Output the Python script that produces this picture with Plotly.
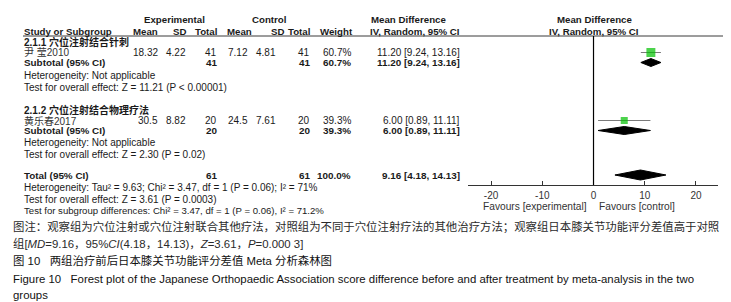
import plotly.graph_objects as go

# ---------------- data ----------------
subgroup_names = ["2.1.1 穴位注射结合针刺", "2.1.2 穴位注射结合物理疗法"]
study_names = ["尹 莹2010", "黄乐春2017"]
exp_mean = [18.32, 30.5]
exp_sd = [4.22, 8.82]
exp_total = [41, 20]
ctl_mean = [7.12, 24.5]
ctl_sd = [4.81, 7.61]
ctl_total = [41, 20]
weights = [60.7, 39.3]
md = [11.20, 6.00]
md_lo = [9.24, 0.89]
md_hi = [13.16, 11.11]
sub_heterogeneity = ["Heterogeneity: Not applicable", "Heterogeneity: Not applicable"]
sub_overall = ["Test for overall effect: Z = 11.21 (P < 0.00001)",
               "Test for overall effect: Z = 2.30 (P = 0.02)"]
total_exp = 61
total_ctl = 61
total_weight = 100.0
total_md = 9.16
total_lo = 4.18
total_hi = 14.13
total_het = "Heterogeneity: Tau² = 9.63; Chi² = 3.47, df = 1 (P = 0.06); I² = 71%"
total_overall = "Test for overall effect: Z = 3.61 (P = 0.0003)"
subgroup_diff = "Test for subgroup differences: Chi² = 3.47, df = 1 (P = 0.06), I² = 71.2%"
tick_values = [-20, -10, 0, 10, 20]
tick_labels = ["-20", "-10", "0", "10", "20"]
favours = ["Favours [experimental]", "Favours [control]"]
captions = [
    "图注：观察组为穴位注射或穴位注射联合其他疗法，对照组为不同于穴位注射疗法的其他治疗方法；观察组日本膝关节功能评分差值高于对照",
    "组[<i>MD</i>=9.16，95%<i>CI</i>(4.18，14.13)，<i>Z</i>=3.61，<i>P</i>=0.000 3]",
    "图 10&nbsp;&nbsp;&nbsp;两组治疗前后日本膝关节功能评分差值 Meta 分析森林图",
    "Figure 10&nbsp;&nbsp;&nbsp;Forest plot of the Japanese Orthopaedic Association score difference before and after treatment by meta-analysis in the two",
    "groups",
]

# ---------------- layout constants ----------------
W, H = 731, 302
FONT = "Liberation Sans, Arial, Noto Sans CJK SC"
CJK = "Liberation Sans, Noto Sans CJK SC"
TXT = "#1a1a1a"
REG = 10.0
BOLD = 9.9
HEAD = 9.7
AXIS_Y = 177          # pixel row of the x axis line
HEADER_LINE_Y = 28

# row pixel positions (layout only)
row_y = {
    "h1": 12, "h2": 23,
    "g0": 34, "s0": 44.5, "sub0": 54.5, "het0": 67, "ov0": 79,
    "g1": 102, "s1": 112.5, "sub1": 122.5, "het1": 135, "ov1": 146,
    "tot": 167, "thet": 179, "tov": 191, "sgd": 202,
}
caption_y = [218, 235.5, 253, 270.5, 287]

# column right edges (pixels)
col_exp_mean, col_exp_sd, col_exp_tot = 151, 179, 210
col_ctl_mean, col_ctl_sd, col_ctl_tot = 241, 269, 303
col_weight = 344
col_ci = 453
LEFT = 15

fig = go.Figure()


def txt(x, y, s, anchor="left", bold=False, size=None, family=FONT, color=TXT):
    if bold:
        s = "<b>" + s + "</b>"
    fig.add_annotation(
        x=x / W, y=1 - y / H, xref="paper", yref="paper", text=s,
        showarrow=False, xanchor=anchor, yanchor="middle", align=anchor,
        font=dict(family=family, size=size or (BOLD if bold else REG), color=color),
        borderpad=0,
    )


# headers
txt(166, row_y["h1"], "Experimental", "center", True, size=HEAD)
txt(261, row_y["h1"], "Control", "center", True, size=HEAD)
txt(400, row_y["h1"], "Mean Difference", "center", True, size=HEAD)
txt(586, row_y["h1"], "Mean Difference", "center", True, size=HEAD)
txt(LEFT, row_y["h2"], "Study or Subgroup", "left", True, size=HEAD)
for xr, lab in [(col_exp_mean, "Mean"), (col_exp_sd, "SD"), (col_exp_tot, "Total"),
                (col_ctl_mean + 4, "Mean"), (col_ctl_sd + 8, "SD"), (col_ctl_tot, "Total"),
                (col_weight + 2, "Weight")]:
    txt(xr, row_y["h2"], lab, "right", True, size=HEAD)
txt(407, row_y["h2"], "IV, Random, 95% CI", "center", True, size=HEAD)
txt(586, row_y["h2"], "IV, Random, 95% CI", "center", True, size=HEAD)

fig.add_shape(type="line", xref="paper", yref="paper",
              x0=LEFT / W, x1=720 / W, y0=1 - HEADER_LINE_Y / H, y1=1 - HEADER_LINE_Y / H,
              line=dict(color="#3a3a3a", width=1))

# subgroup blocks
for i in range(len(study_names)):
    g = str(i)
    txt(LEFT, row_y["g" + g], subgroup_names[i], "left", True, size=10.0, family=CJK)
    ys = row_y["s" + g]
    txt(LEFT, ys, study_names[i], "left", size=10.0, family=CJK, color="#333")
    txt(col_exp_mean, ys, f"{exp_mean[i]:g}", "right")
    txt(col_exp_sd, ys, f"{exp_sd[i]:.2f}", "right")
    txt(col_exp_tot, ys, f"{exp_total[i]}", "right")
    txt(col_ctl_mean, ys, f"{ctl_mean[i]:g}", "right")
    txt(col_ctl_sd, ys, f"{ctl_sd[i]:.2f}", "right")
    txt(col_ctl_tot, ys, f"{ctl_total[i]}", "right")
    txt(col_weight, ys, f"{weights[i]:.1f}%", "right")
    txt(col_ci, ys, f"{md[i]:.2f} [{md_lo[i]:.2f}, {md_hi[i]:.2f}]", "right")
    yb = row_y["sub" + g]
    txt(LEFT, yb, "Subtotal (95% CI)", "left", True)
    txt(col_exp_tot, yb, f"{exp_total[i]}", "right", True)
    txt(col_ctl_tot, yb, f"{ctl_total[i]}", "right", True)
    txt(col_weight, yb, f"{weights[i]:.1f}%", "right", True)
    txt(col_ci, yb, f"{md[i]:.2f} [{md_lo[i]:.2f}, {md_hi[i]:.2f}]", "right", True)
    txt(LEFT, row_y["het" + g], sub_heterogeneity[i])
    txt(LEFT, row_y["ov" + g], sub_overall[i])

# total block
txt(LEFT, row_y["tot"], "Total (95% CI)", "left", True)
txt(col_exp_tot, row_y["tot"], f"{total_exp}", "right", True)
txt(col_ctl_tot, row_y["tot"], f"{total_ctl}", "right", True)
txt(col_weight, row_y["tot"], f"{total_weight:.1f}%", "right", True)
txt(col_ci, row_y["tot"], f"{total_md:.2f} [{total_lo:.2f}, {total_hi:.2f}]", "right", True)
txt(LEFT, row_y["thet"], total_het)
txt(LEFT, row_y["tov"], total_overall)
txt(LEFT, row_y["sgd"], subgroup_diff, size=9.6)

# ---------------- forest marks (data coords on x, pixel rows on y) ----------------
for i in range(len(md)):
    ys = row_y["s" + str(i)]
    fig.add_trace(go.Scatter(x=[md_lo[i], md_hi[i]], y=[ys, ys], mode="lines",
                             line=dict(color="#7a7a7a", width=1), hoverinfo="skip"))
fig.add_trace(go.Scatter(
    x=md, y=[row_y["s0"], row_y["s1"]], mode="markers",
    marker=dict(symbol="square", size=[3.5 + w * 0.09 for w in weights],
                color="#00c000", line=dict(width=0)),
    hoverinfo="skip"))


def diamond(m, lo, hi, yc, half):
    fig.add_trace(go.Scatter(
        x=[lo, m, hi, m, lo], y=[yc, yc - half, yc, yc + half, yc],
        mode="lines", fill="toself", fillcolor="black",
        line=dict(color="black", width=1), hoverinfo="skip"))


for i in range(len(md)):
    diamond(md[i], md_lo[i], md_hi[i], row_y["sub" + str(i)], 4)
diamond(total_md, total_lo, total_hi, row_y["tot"], 5)

# zero line
fig.add_shape(type="line", xref="x", yref="y", x0=0, x1=0, y0=HEADER_LINE_Y, y1=AXIS_Y,
              line=dict(color="black", width=1.2))

# favours labels
txt(580, 198, favours[0], "right", size=10.2, color="#333")
txt(590, 198, favours[1], "left", size=10.2, color="#333")

# captions
cap_fonts = [
    dict(family="Noto Sans CJK SC", size=11.4, color="#2a2a2a"),
    dict(family="Liberation Sans, Noto Sans CJK SC", size=11.4, color="#2a2a2a"),
    dict(family="Liberation Sans, Noto Sans CJK SC", size=11.4, color="#111"),
    dict(family="Liberation Sans", size=11.4, color="#111"),
    dict(family="Liberation Sans", size=11.4, color="#111"),
]
for c, y, f in zip(captions, caption_y, cap_fonts):
    fig.add_annotation(x=4 / W, y=1 - y / H, xref="paper", yref="paper", text=c,
                       showarrow=False, xanchor="left", yanchor="middle", align="left",
                       font=f, borderpad=0)

fig.update_layout(
    width=W, height=H, margin=dict(l=0, r=0, t=0, b=0),
    paper_bgcolor="white", plot_bgcolor="rgba(0,0,0,0)", showlegend=False,
    xaxis=dict(domain=[460 / W, 710 / W], range=[-24.5, 24.3], showgrid=False,
               zeroline=False, showline=True, linecolor="#333", linewidth=1,
               ticks="inside", ticklen=4, tickcolor="#333", tickvals=tick_values,
               ticktext=tick_labels, tickfont=dict(family=FONT, size=10, color="#333"),
               ticklabelstandoff=1, fixedrange=True),
    yaxis=dict(domain=[1 - AXIS_Y / H, 1], range=[AXIS_Y, 0], visible=False,
               fixedrange=True),
)

fig.write_html("out.html")
